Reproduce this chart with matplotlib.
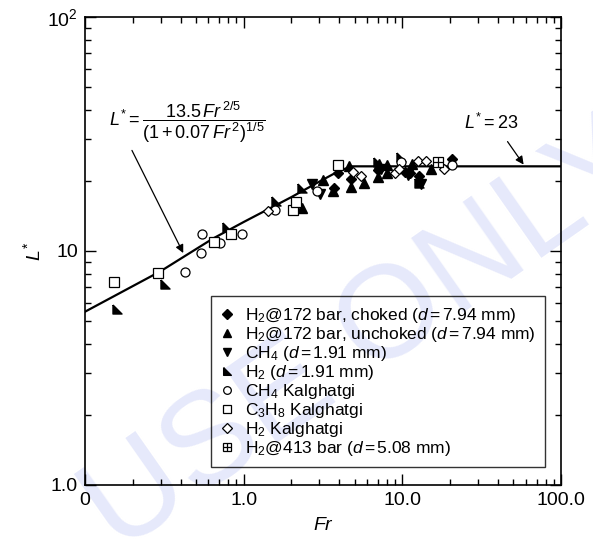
import matplotlib.pyplot as plt
from matplotlib.ticker import FixedLocator, LogLocator, NullFormatter

plt.rcParams['font.family'] = ['Liberation Sans', 'DejaVu Sans']
plt.rcParams['mathtext.fontset'] = 'custom'
plt.rcParams['mathtext.rm'] = 'Liberation Sans'
plt.rcParams['mathtext.it'] = 'Liberation Sans:italic'

# correlation line
curve_fr = [0.1, 0.3, 0.64, 1.0, 2.0, 3.0, 4.0, 4.8, 100.0]
curve_L = [5.5, 8.2, 11.3, 13.3, 17.0, 19.8, 22.0, 23.0, 23.0]

# H2 @ 172 bar, choked
choked_fr = [3.73, 3.94, 4.74, 7.0, 10.4, 11.2, 12.8, 20.4]
choked_L = [18.6, 21.6, 20.3, 22.2, 21.7, 21.6, 20.9, 24.7]
# H2 @ 172 bar, unchoked
unchoked_fr = [2.34, 3.16, 3.63, 4.64, 4.76, 5.69, 7.0, 7.1, 8.0, 8.03, 11.5, 15.1]
unchoked_L = [15.3, 20.1, 18.0, 23.1, 18.8, 19.6, 20.8, 23.6, 23.3, 21.6, 23.6, 22.3]
# CH4 d = 1.91 mm
ch4_fr = [2.68, 3.04, 7.3, 10.8, 13.1]
ch4_L = [19.3, 17.6, 22.5, 21.2, 19.3]
# H2 d = 1.91 mm
h2_fr = [0.159, 0.32, 0.78, 1.59, 2.34, 7.0, 9.73, 12.8]
h2_L = [5.65, 7.25, 12.6, 16.4, 18.6, 24.1, 25.3, 19.6]
# CH4 Kalghatgi
ch4k_fr = [0.428, 0.54, 0.547, 0.711, 0.97, 1.57, 2.91, 9.84, 20.4]
ch4k_L = [8.1, 9.85, 11.8, 10.8, 11.8, 14.9, 18.1, 24.1, 23.4]
# C3H8 Kalghatgi
c3h8_fr = [0.153, 0.288, 0.652, 0.83, 2.04, 2.13, 3.94]
c3h8_L = [7.37, 8.08, 10.9, 11.8, 14.9, 16.2, 23.2]
# H2 Kalghatgi
h2k_fr = [1.43, 4.9, 5.47, 8.98, 9.46, 12.6, 14.1, 18.3]
h2k_L = [14.8, 21.8, 21.0, 21.5, 22.3, 24.3, 24.2, 22.4]
# H2 @ 413 bar
h2_413_fr = [16.8]
h2_413_L = [24.1]

corner = [(-1, 1), (-1, -1), (1, -1), (-1, 1)]

fig = plt.figure(figsize=(5.93, 5.44), dpi=100)
ax = fig.add_axes([0.1433, 0.1085, 0.803, 0.8603])
ax.set_facecolor('none')

# faint watermark behind everything
fig.text(0.62, 0.38, 'USE ONLY', fontsize=95, color='#e6e9fb', rotation=35,
         ha='center', va='center', zorder=-1)

ax.plot(curve_fr, curve_L, color='black', lw=1.6, zorder=2)

ms = 6.5
ax.plot(choked_fr, choked_L, 'D', ms=5.5, color='black', ls='none', zorder=3,
        label=r'H$_2$@172 bar, choked ($d$$\,$=$\,$7.94 mm)')
ax.plot(unchoked_fr, unchoked_L, '^', ms=ms, color='black', ls='none', zorder=3,
        label=r'H$_2$@172 bar, unchoked ($d$$\,$=$\,$7.94 mm)')
ax.plot(ch4_fr, ch4_L, 'v', ms=ms, color='black', ls='none', zorder=3,
        label=r'CH$_4$ ($d$$\,$=$\,$1.91 mm)')
ax.plot(h2_fr, h2_L, marker=corner, ms=ms, color='black', ls='none', zorder=3,
        label=r'H$_2$ ($d$$\,$=$\,$1.91 mm)')
ax.plot(ch4k_fr, ch4k_L, 'o', ms=ms, mfc='white', mec='black', mew=0.9, ls='none',
        zorder=3, label=r'CH$_4$ Kalghatgi')
ax.plot(c3h8_fr, c3h8_L, 's', ms=ms, mfc='white', mec='black', mew=0.9, ls='none',
        zorder=3, label=r'C$_3$H$_8$ Kalghatgi')
ax.plot(h2k_fr, h2k_L, 'D', ms=5.5, mfc='white', mec='black', mew=0.9, ls='none',
        zorder=3, label=r'H$_2$ Kalghatgi')
ax.plot(h2_413_fr, h2_413_L, 's', ms=ms, mfc='white', mec='black', mew=0.9, ls='none',
        zorder=3)
ax.plot(h2_413_fr, h2_413_L, '+', ms=ms, color='black', mew=0.9, ls='none',
        zorder=3)
# legend handle for the boxed plus
h_sq, = ax.plot([], [], 's', ms=ms, mfc='white', mec='black', mew=0.9, ls='none')
h_pl, = ax.plot([], [], '+', ms=ms, color='black', mew=0.9, ls='none')

ax.set_xscale('log')
ax.set_yscale('log')
ax.set_xlim(0.1, 100)
ax.set_ylim(1, 100)

ax.xaxis.set_major_locator(FixedLocator([0.1, 1, 10, 100]))
ax.set_xticklabels(['0', '1.0', '10.0', '100.0'])
ax.yaxis.set_major_locator(FixedLocator([1, 10, 100]))
ax.set_yticklabels(['1.0', '10', r'10$^2$'])
ax.xaxis.set_minor_locator(LogLocator(subs=range(2, 10)))
ax.yaxis.set_minor_locator(LogLocator(subs=range(2, 10)))
ax.xaxis.set_minor_formatter(NullFormatter())
ax.yaxis.set_minor_formatter(NullFormatter())
ax.tick_params(which='both', direction='in', top=True, right=True, width=1)
ax.tick_params(which='major', length=8, labelsize=14, pad=5)
ax.tick_params(which='minor', length=4)
for s in ax.spines.values():
    s.set_linewidth(1.2)

ax.set_xlabel(r'$Fr$', fontsize=14, labelpad=6)
ax.set_ylabel(r'$L^{*}$', fontsize=14, labelpad=2)

ax.annotate(r'$L^{*}=\dfrac{13.5\,Fr^{\,2/5}}{(1+0.07\,Fr^{\,2})^{1/5}}$',
            xy=(0.416, 9.8), xytext=(0.44, 35.5), fontsize=13,
            ha='center', va='center',
            arrowprops=dict(arrowstyle='-|>', color='black', lw=0.9,
                            mutation_scale=12, shrinkA=2, shrinkB=0,
                            relpos=(0.09, 0.28)))
ax.annotate(r'$L^{*}=23$', xy=(58, 23.4), xytext=(36, 35.2), fontsize=13,
            ha='center', va='center',
            arrowprops=dict(arrowstyle='-|>', color='black', lw=0.9,
                            mutation_scale=12, shrinkA=5, shrinkB=0,
                            relpos=(0.7, 0.0)))

handles, labels = ax.get_legend_handles_labels()
handles.append((h_sq, h_pl))
labels.append(r'H$_2$@413 bar ($d$$\,$=$\,$5.08 mm)')
leg = ax.legend(handles, labels, loc='lower right', bbox_to_anchor=(0.966, 0.038),
                fontsize=12.5, frameon=True, fancybox=False, edgecolor='black',
                facecolor='none', framealpha=None,
                handlelength=0.8, handletextpad=0.6, labelspacing=0.0,
                borderpad=0.55, borderaxespad=0, markerscale=0.85)
leg.get_frame().set_linewidth(1.0)

fig.savefig('out.png', dpi=100)
